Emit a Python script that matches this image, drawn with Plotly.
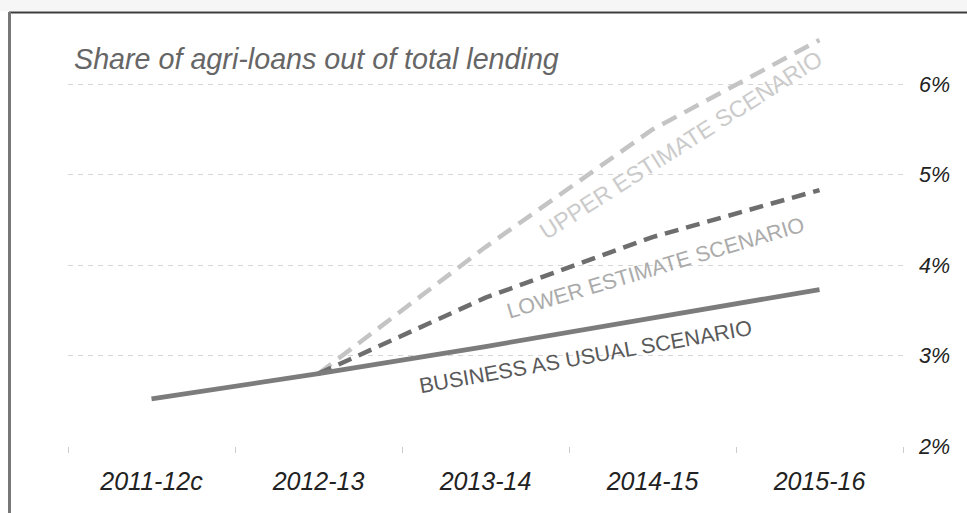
import plotly.graph_objects as go

categories = ["2011-12c", "2012-13", "2013-14", "2014-15", "2015-16"]
bau = [2.52, 2.80, 3.10, 3.42, 3.73]
lower_cats = ["2012-13", "2013-14", "2014-15", "2015-16"]
lower = [2.80, 3.64, 4.31, 4.83]
upper_cats = ["2012-13", "2013-14", "2014-15", "2015-16"]
upper = [2.80, 4.20, 5.50, 6.49]
y_ticks = [2, 3, 4, 5, 6]
y_tick_labels = ["2%", "3%", "4%", "5%", "6%"]
title_text = "Share of agri-loans out of total lending"

W, H = 967, 513
L, R, T, B = 68, 64, 30, 67
pw, ph = W - L - R, H - T - B

def px_x(x):
    return (x - L) / pw

def px_y(y):
    return (H - B - y) / ph

FONT = "Liberation Sans, Arial, sans-serif"

fig = go.Figure()
fig.add_trace(go.Scatter(x=upper_cats, y=upper, mode="lines",
                         line=dict(color="#c4c4c4", width=4.5, dash="16px,9px"),
                         hoverinfo="skip"))
fig.add_trace(go.Scatter(x=lower_cats, y=lower, mode="lines",
                         line=dict(color="#6e6e6e", width=4.5, dash="14px,8px"),
                         hoverinfo="skip"))
fig.add_trace(go.Scatter(x=categories, y=bau, mode="lines",
                         line=dict(color="#7c7c7c", width=4.8),
                         hoverinfo="skip"))

annotations = [
    dict(text=title_text, xref="paper", yref="paper", x=px_x(72), y=px_y(59),
         xanchor="left", yanchor="middle", showarrow=False,
         font=dict(family=FONT, size=28.7, color="#666666", style="italic")),
    dict(text="UPPER ESTIMATE SCENARIO", x=3.17, y=5.33, showarrow=False,
         textangle=-32.5, font=dict(family=FONT, size=23.3, color="#cbcbcb")),
    dict(text="LOWER ESTIMATE SCENARIO", x=3.02, y=3.97, showarrow=False,
         textangle=-16.5, font=dict(family=FONT, size=21.5, color="#ababab")),
    dict(text="BUSINESS AS USUAL SCENARIO", x=2.60, y=2.98, showarrow=False,
         textangle=-10, font=dict(family=FONT, size=21.5, color="#5a5a5a")),
]

shapes = [
    dict(type="rect", xref="paper", yref="paper", x0=px_x(0), x1=px_x(W),
         y0=px_y(11), y1=px_y(0), fillcolor="#f6f6f6", line=dict(width=0), layer="below"),
    dict(type="line", xref="paper", yref="paper", x0=px_x(9), x1=px_x(W),
         y0=px_y(12.5), y1=px_y(12.5), line=dict(color="#3c3c3c", width=2)),
    dict(type="line", xref="paper", yref="paper", x0=px_x(9.5), x1=px_x(9.5),
         y0=px_y(12), y1=px_y(H), line=dict(color="#777777", width=3)),
]

fig.update_layout(
    width=W, height=H,
    margin=dict(l=L, r=R, t=T, b=B, pad=0),
    paper_bgcolor="white", plot_bgcolor="white",
    showlegend=False,
    annotations=annotations,
    shapes=shapes,
    xaxis=dict(type="category", categoryorder="array", categoryarray=categories,
               range=[-0.5, 4.5], showgrid=False, zeroline=False, showline=False,
               ticks="outside", tickson="boundaries", ticklen=6, tickcolor="#cccccc",
               tickwidth=1, ticklabelstandoff=18,
               tickfont=dict(family=FONT, size=25, color="#222222", style="italic")),
    yaxis=dict(range=[2, 6.6], side="right", tickmode="array", tickvals=y_ticks,
               ticktext=y_tick_labels,
               showgrid=True, gridcolor="#d6d6d6", griddash="5px,5px", gridwidth=1,
               zeroline=False, showline=False, ticks="", ticklabelstandoff=15,
               tickfont=dict(family=FONT, size=21.5, color="#222222", style="italic")),
)

fig.write_html("out.html")
